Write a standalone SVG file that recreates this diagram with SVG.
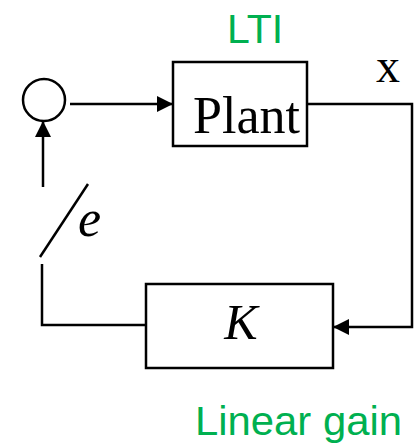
<svg xmlns="http://www.w3.org/2000/svg" width="414" height="445" viewBox="0 0 414 445">
<style>
.box{fill:#fff;stroke:#000;stroke-width:2.5}
.ln{fill:none;stroke:#000;stroke-width:2.5}
.green{fill:#00b050;font-family:"Liberation Sans",Arial,sans-serif;font-size:41px}
.serif{font-family:"Liberation Serif","Times New Roman",serif;fill:#000}
</style>
<defs>
<marker id="ah" markerWidth="16" markerHeight="16" refX="16" refY="8" orient="auto" markerUnits="userSpaceOnUse">
<path d="M0,0 L16,8 L0,16 Z" fill="#000"/>
</marker>
</defs>
<g id="connectors">
<line class="ln" x1="70" y1="104" x2="173" y2="104" marker-end="url(#ah)"/>
<polyline class="ln" points="307,104 412,104 412,327 333,327" marker-end="url(#ah)"/>
<polyline class="ln" points="146,325 42,325 42,264"/>
<line class="ln" x1="40" y1="257" x2="88" y2="184"/>
<line class="ln" x1="43" y1="187" x2="43" y2="121" marker-end="url(#ah)"/>
</g>
<g id="sum">
<circle cx="44" cy="100" r="21" fill="#fff" stroke="#000" stroke-width="2.5"/>
</g>
<g id="plant">
<rect class="box" x="173" y="62" width="134" height="84"/>
<text class="serif" x="193" y="133" font-size="52" textLength="107" lengthAdjust="spacingAndGlyphs">Plant</text>
</g>
<g id="gain">
<rect class="box" x="146" y="284" width="187" height="84"/>
<text class="serif" x="241" y="339" font-size="50" font-style="italic" text-anchor="middle">K</text>
</g>
<text class="green" x="255" y="43" text-anchor="middle">LTI</text>
<text class="serif" x="376" y="82" font-size="48">x</text>
<text class="serif" x="78" y="236" font-size="52" font-style="italic">e</text>
<text class="green" x="195" y="435" textLength="207" lengthAdjust="spacingAndGlyphs">Linear gain</text>
</svg>
